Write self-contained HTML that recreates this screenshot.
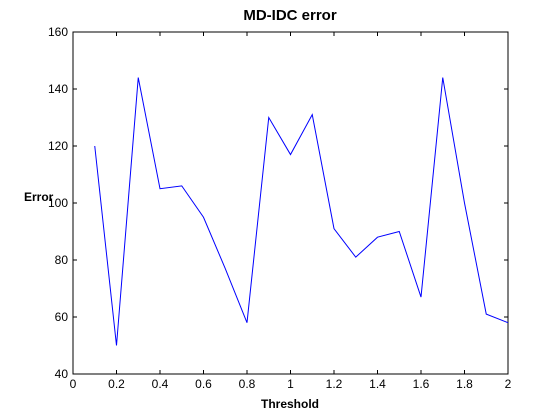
<!DOCTYPE html>
<html><head><meta charset="utf-8"><style>
body{margin:0;background:#fff;}
svg{display:block;font-family:"Liberation Sans",Arial,sans-serif;}
</style></head><body>
<svg id="chart" width="560" height="420">
<rect x="0" y="0" width="560" height="420" fill="#fff"/>
<rect x="73" y="32" width="435" height="342" fill="#fff" stroke="#000" stroke-width="1"/>
<text x="290" y="20" text-anchor="middle" font-size="15" font-weight="bold">MD-IDC error</text>
<text x="290" y="408" text-anchor="middle" font-size="12" font-weight="bold">Threshold</text>
<text x="24" y="201" font-size="12" font-weight="bold">Error</text>
<g id="ticks"></g>
<polyline id="line" fill="none" stroke="#0000ff" stroke-width="1"/>
</svg>
<script>
const xValues=[0.1,0.2,0.3,0.4,0.5,0.6,0.7,0.8,0.9,1.0,1.1,1.2,1.3,1.4,1.5,1.6,1.7,1.8,1.9,2.0];
const errorValues=[120,50,144,105,106,95,77,58,130,117,131,91,81,88,90,67,144,100,61,58];
const xTicks=[0,0.2,0.4,0.6,0.8,1,1.2,1.4,1.6,1.8,2];
const xTickLabels=["0","0.2","0.4","0.6","0.8","1","1.2","1.4","1.6","1.8","2"];
const yTicks=[40,60,80,100,120,140,160];
const yTickLabels=["40","60","80","100","120","140","160"];
const L=73,R=508,T=32,B=374;
function sx(v){return L+(v-0)/(2-0)*(R-L);}
function sy(v){return B-(v-40)/(160-40)*(B-T);}
const ns="http://www.w3.org/2000/svg";
const g=document.getElementById('ticks');
function mk(tag,attrs){const e=document.createElementNS(ns,tag);for(const k in attrs)e.setAttribute(k,attrs[k]);return e;}
xTicks.forEach((v,i)=>{
 const x=sx(v);
 const t1=mk('line',{x1:x,x2:x,y1:B,y2:B-4,stroke:'#000'});
 
 
 g.appendChild(t1);
 const t2=mk('line',{x1:x,x2:x,y1:T,y2:T+4,stroke:'#000'});
 
 
 g.appendChild(t2);
 const tx=mk('text',{x:x,y:B+14,'text-anchor':'middle','font-size':'12'});
 tx.textContent=xTickLabels[i];
 
 
 g.appendChild(tx);
});
yTicks.forEach((v,i)=>{
 const y=sy(v);
 const t1=mk('line',{x1:L,x2:L+4,y1:y,y2:y,stroke:'#000'});
 
 
 g.appendChild(t1);
 const t2=mk('line',{x1:R,x2:R-4,y1:y,y2:y,stroke:'#000'});
 
 
 g.appendChild(t2);
 const tx=mk('text',{x:L-5,y:y+4,'text-anchor':'end','font-size':'12'});
 tx.textContent=yTickLabels[i];
 
 
 g.appendChild(tx);
});
document.getElementById('line').setAttribute('points',xValues.map((x,i)=>sx(x)+','+sy(errorValues[i])).join(' '));
</script>
</body></html>
